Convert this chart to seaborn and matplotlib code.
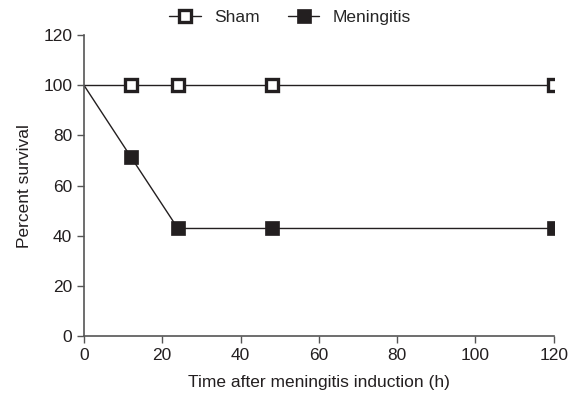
import numpy as np
import pandas as pd
import seaborn as sns
import matplotlib.pyplot as plt

sns.set_style('ticks')
plt.rcParams['font.family'] = ['Liberation Sans', 'DejaVu Sans']

time_h = [0, 12, 24, 48, 120]
sham = [100, 100, 100, 100, 100]
meningitis = [100, 71.4, 42.9, 42.9, 42.9]
x_ticks = [0, 20, 40, 60, 80, 100, 120]
y_ticks = [0, 20, 40, 60, 80, 100, 120]

df = pd.DataFrame({'Time': time_h, 'Sham': sham, 'Meningitis': meningitis})

fig = plt.figure(figsize=(5.75, 4.03), dpi=100)
ax = fig.add_axes([0.146, 0.166, 0.817, 0.747])

ink = '#231f20'
fs = 12.5
sns.lineplot(data=df, x='Time', y='Sham', ax=ax, color=ink, lw=1.0,
             marker='s', markevery=[1, 2, 3, 4], markersize=8.5,
             markerfacecolor='white', markeredgecolor=ink, markeredgewidth=2.4,
             label='Sham')
sns.lineplot(data=df, x='Time', y='Meningitis', ax=ax, color=ink, lw=1.0,
             marker='s', markevery=[1, 2, 3, 4], markersize=10,
             markerfacecolor=ink, markeredgecolor=ink, markeredgewidth=0.5,
             label='Meningitis')

ax.set_xlim(0, 120)
ax.set_ylim(0, 120)
ax.set_xticks(x_ticks)
ax.set_yticks(y_ticks)
ax.set_xlabel('Time after meningitis induction (h)', fontsize=fs, color=ink, labelpad=9)
ax.set_ylabel('Percent survival', fontsize=fs, color=ink, labelpad=8)
ax.tick_params(axis='both', labelsize=fs, colors=ink, length=5, width=1.0, color='#555555')
for s in ['left', 'bottom']:
    ax.spines[s].set_color('#555555')
    ax.spines[s].set_linewidth(1.2)
sns.despine(ax=ax)
for sp in ax.spines.values():
    sp.set_clip_on(False)

handles, labels = ax.get_legend_handles_labels()
ax.get_legend().remove()
fig.legend(handles, labels, loc='upper center', bbox_to_anchor=(0.505, 1.015), ncol=2,
           frameon=False, fontsize=fs, handlelength=1.8, columnspacing=1.6,
           handletextpad=0.8)

fig.savefig('out.png', dpi=100)
